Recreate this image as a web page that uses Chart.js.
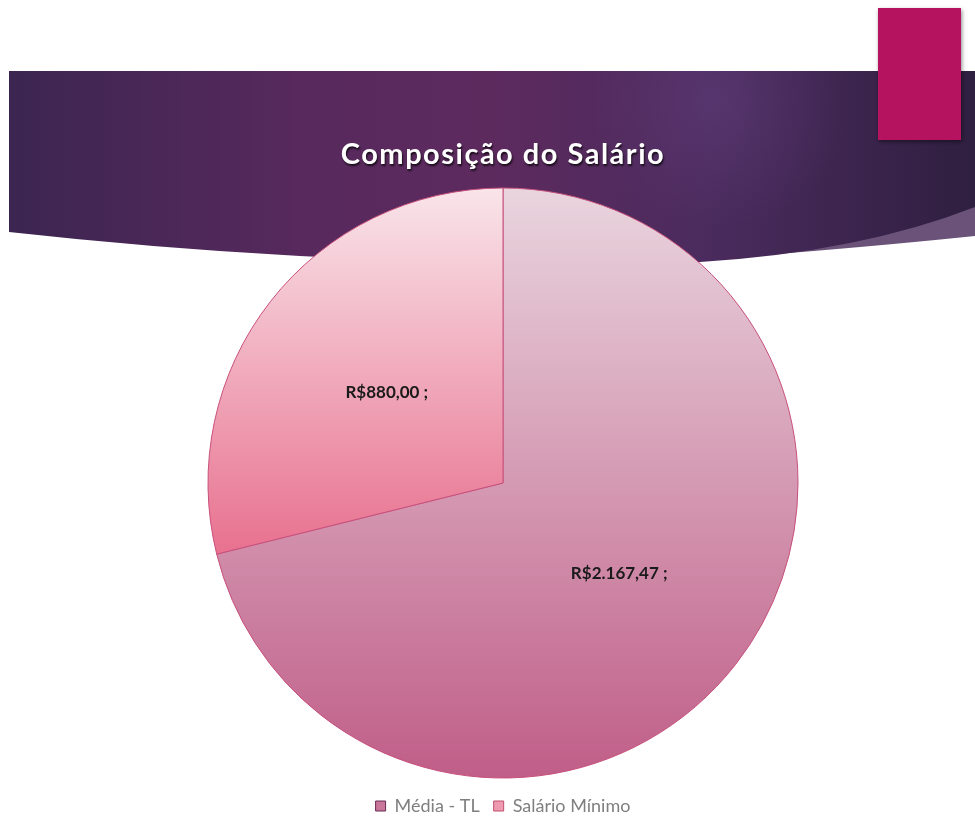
<!DOCTYPE html>
<html>
<head>
<meta charset="utf-8">
<script src="https://cdn.jsdelivr.net/npm/chart.js@4"></script>
<style>
  html, body { margin: 0; padding: 0; background: #fff; }
  #wrap { width: 975px; height: 817px; position: relative; }
</style>
</head>
<body>
<div id="wrap"><canvas id="myChart" width="975" height="817"></canvas></div>
<script>
// data
var chartTitle = 'Composição do Salário';
var labels = ['Média - TL', 'Salário Mínimo'];
var values = [2167.47, 880.00];

var pieRadius = 295;

// brazilian money format, e.g. 2.167,47
function brl(v) {
  var parts = v.toFixed(2).split('.');
  var intPart = parts[0].replace(/\B(?=(\d{3})+(?!\d))/g, '.');
  return 'R$' + intPart + ',' + parts[1] + ' ;';
}

function sliceGradient(context) {
  var chart = context.chart;
  var area = chart.chartArea;
  if (!area) return '#d699b2';
  var cy = (area.top + area.bottom) / 2;
  var g;
  if (context.dataIndex === 0) {
    g = chart.ctx.createLinearGradient(0, cy - pieRadius, 0, cy + pieRadius);
    g.addColorStop(0, '#e9d5de');
    g.addColorStop(1, '#c05e88');
  } else {
    g = chart.ctx.createLinearGradient(0, cy - pieRadius, 0, cy + pieRadius * 0.24);
    g.addColorStop(0, '#f9e5ea');
    g.addColorStop(1, '#e8718f');
  }
  return g;
}

// slide background: purple banner, magenta box, title
var slideBackground = {
  id: 'slideBackground',
  afterLayout: function(chart) {
    // push the legend a bit lower, like on the slide
    chart.legend.top += 8;
    chart.legend.bottom += 8;
  },
  beforeDraw: function(chart) {
    var ctx = chart.ctx;
    ctx.save();
    ctx.fillStyle = '#ffffff';
    ctx.fillRect(0, 0, chart.width, chart.height);

    // lighter stripe on the right
    ctx.beginPath();
    ctx.moveTo(640, 264);
    ctx.quadraticCurveTo(820, 252, 975, 236);
    ctx.lineTo(975, 190);
    ctx.lineTo(700, 230);
    ctx.closePath();
    ctx.fillStyle = '#6a5279';
    ctx.fill();

    // banner
    ctx.beginPath();
    ctx.moveTo(9, 71);
    ctx.lineTo(975, 71);
    ctx.lineTo(975, 207);
    ctx.quadraticCurveTo(860, 252, 700, 262);
    ctx.quadraticCurveTo(350, 270, 9, 232);
    ctx.closePath();
    var lg = ctx.createLinearGradient(9, 0, 975, 0);
    lg.addColorStop(0, '#3c2551');
    lg.addColorStop(0.3, '#57295d');
    lg.addColorStop(0.5, '#5d2a5e');
    lg.addColorStop(0.72, '#4b2b5e');
    lg.addColorStop(1, '#2f1f40');
    ctx.fillStyle = lg;
    ctx.fill();
    var rg = ctx.createRadialGradient(720, 100, 0, 720, 100, 130);
    rg.addColorStop(0, 'rgba(110,72,140,0.35)');
    rg.addColorStop(1, 'rgba(110,72,140,0)');
    ctx.fillStyle = rg;
    ctx.fill();

    // magenta box
    ctx.shadowColor = 'rgba(0,0,0,0.45)';
    ctx.shadowBlur = 4;
    ctx.shadowOffsetX = 1;
    ctx.shadowOffsetY = 2;
    ctx.fillStyle = '#b5135f';
    ctx.fillRect(878, 8, 83, 132);

    // title
    ctx.shadowColor = 'rgba(0,0,0,0.7)';
    ctx.shadowBlur = 2;
    ctx.shadowOffsetX = 1;
    ctx.shadowOffsetY = 2;
    ctx.fillStyle = '#ffffff';
    ctx.font = 'bold 29px Lato';
    ctx.letterSpacing = '1.5px';
    ctx.textAlign = 'center';
    ctx.textBaseline = 'middle';
    var a = chart.chartArea;
    ctx.fillText(chartTitle, (a.left + a.right) / 2, 155);
    ctx.restore();
  }
};

// value labels in the middle of each slice
var sliceLabels = {
  id: 'sliceLabels',
  afterDatasetsDraw: function(chart) {
    var ctx = chart.ctx;
    var meta = chart.getDatasetMeta(0);
    ctx.save();
    ctx.font = 'bold 17px Lato';
    ctx.fillStyle = '#1a1a1a';
    ctx.textAlign = 'center';
    ctx.textBaseline = 'middle';
    meta.data.forEach(function(arc, i) {
      var p = arc.tooltipPosition();
      ctx.fillText(brl(values[i]), p.x, p.y);
    });
    ctx.restore();
  }
};

var ctx = document.getElementById('myChart').getContext('2d');

var myChart = new Chart(ctx, {
  type: 'pie',
  data: {
    labels: labels,
    datasets: [{
      data: values,
      backgroundColor: sliceGradient,
      borderColor: '#c8507c',
      borderWidth: 1
    }]
  },
  options: {
    responsive: false,
    animation: false,
    radius: pieRadius,
    layout: {
      padding: { top: 191, left: 31, right: 0, bottom: 0 }
    },
    plugins: {
      legend: {
        position: 'bottom',
        labels: {
          boxWidth: 10,
          boxHeight: 10,
          padding: 14,
          color: '#7f7f7f',
          font: { family: 'Lato', size: 18 },
          generateLabels: function() {
            var fills = ['#c9769b', '#ee9bb1'];
            var strokes = ['#6b2a52', '#c0506f'];
            return labels.map(function(l, i) {
              return {
                text: l,
                fillStyle: fills[i],
                strokeStyle: strokes[i],
                lineWidth: 1,
                fontColor: '#7f7f7f',
                index: i,
                hidden: false
              };
            });
          }
        }
      },
      tooltip: { enabled: false }
    }
  },
  plugins: [slideBackground, sliceLabels]
});
</script>
</body>
</html>
